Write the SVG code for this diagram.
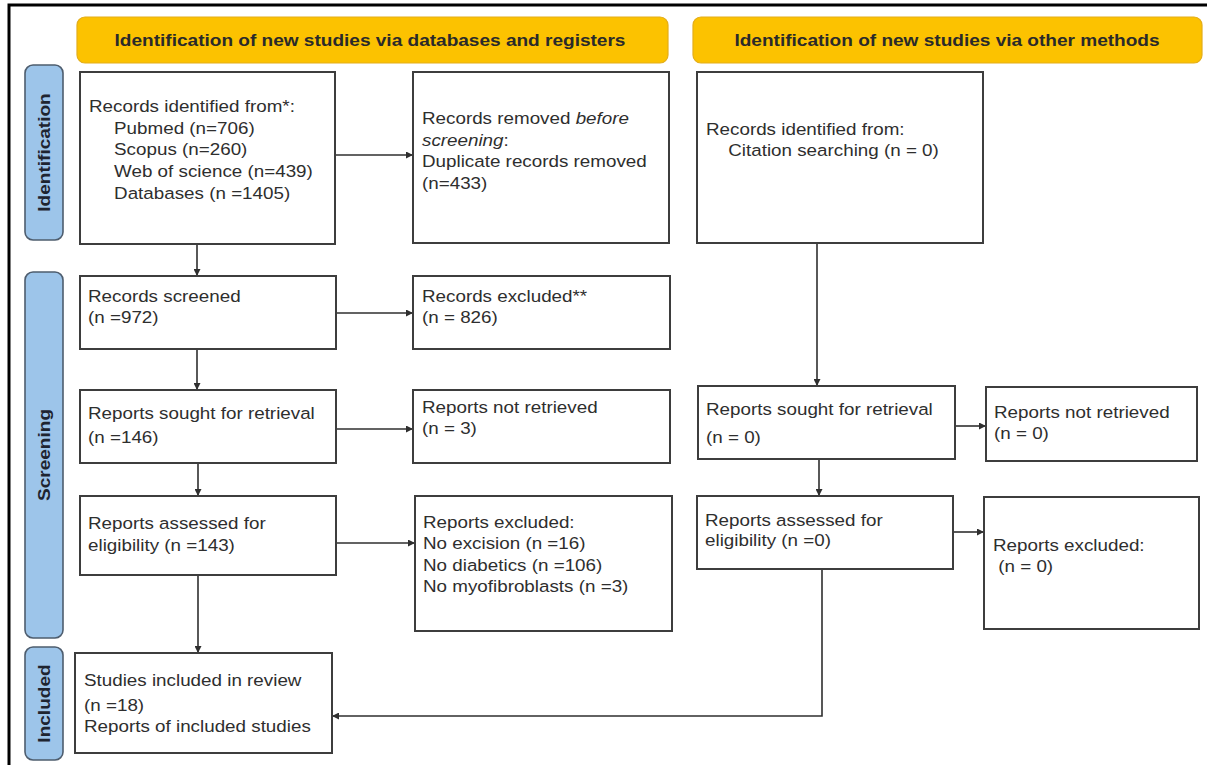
<svg xmlns="http://www.w3.org/2000/svg" width="1207" height="765" viewBox="0 0 1207 765">
<defs>
<style>
.bg{fill:#ffffff}
.box{fill:#ffffff;stroke:#3d3d3d;stroke-width:2}
.hdr{fill:#FCC200;stroke:#E3AD1A;stroke-width:1.2}
.side{fill:#9DC5EA;stroke:#4e5d6e;stroke-width:1.6}
.t{font-family:"Liberation Sans",Arial,sans-serif;font-size:16.5px;fill:#2e2e2e}
.h{font-family:"Liberation Sans",Arial,sans-serif;font-size:16px;font-weight:bold;fill:#2a2a2a;text-anchor:middle}
.s{font-family:"Liberation Sans",Arial,sans-serif;font-size:16px;font-weight:bold;fill:#1e2430;text-anchor:middle}
.c{fill:none;stroke:#2f2f2f;stroke-width:1.6}
</style>
<marker id="arr" viewBox="0 0 7 7" refX="7" refY="3.5" markerWidth="7" markerHeight="7" markerUnits="userSpaceOnUse" orient="auto">
<path d="M0,0 L7,3.5 L0,7 z" fill="#2f2f2f"/>
</marker>
</defs>
<rect class="bg" x="0" y="0" width="1207" height="765"/>
<path d="M9,765 V5 H1207" fill="none" stroke="#000" stroke-width="3"/>

<g id="header-databases">
<rect class="hdr" x="77" y="17" width="591" height="46" rx="8"/>
<text class="h" transform="translate(370,46) scale(1.19,1)">Identification of new studies via databases and registers</text>
</g>
<g id="header-other">
<rect class="hdr" x="693" y="17" width="509" height="46" rx="8"/>
<text class="h" transform="translate(947,46) scale(1.19,1)">Identification of new studies via other methods</text>
</g>

<g id="phase-identification">
<rect class="side" x="25" y="65" width="38" height="175" rx="8"/>
<text class="s" transform="translate(49.5,152.5) rotate(-90) scale(1.19,1)">Identification</text>
</g>
<g id="phase-screening">
<rect class="side" x="25" y="272" width="38" height="366" rx="8"/>
<text class="s" transform="translate(49.5,455) rotate(-90) scale(1.19,1)">Screening</text>
</g>
<g id="phase-included">
<rect class="side" x="25" y="647" width="38" height="113" rx="8"/>
<text class="s" transform="translate(49.5,703.5) rotate(-90) scale(1.19,1)">Included</text>
</g>

<g id="connectors">
<path class="c" d="M335,155 H413" marker-end="url(#arr)"/>
<path class="c" d="M197,244 V276" marker-end="url(#arr)"/>
<path class="c" d="M336,313 H413" marker-end="url(#arr)"/>
<path class="c" d="M197,349 V390" marker-end="url(#arr)"/>
<path class="c" d="M336,429 H413" marker-end="url(#arr)"/>
<path class="c" d="M198,463 V496" marker-end="url(#arr)"/>
<path class="c" d="M336,543 H415" marker-end="url(#arr)"/>
<path class="c" d="M198,575 V653" marker-end="url(#arr)"/>
<path class="c" d="M817,243 V386" marker-end="url(#arr)"/>
<path class="c" d="M955,426 H986" marker-end="url(#arr)"/>
<path class="c" d="M819,459 V496" marker-end="url(#arr)"/>
<path class="c" d="M953,532 H984" marker-end="url(#arr)"/>
<path class="c" d="M822,569 V716 H332" marker-end="url(#arr)"/>
</g>

<g id="records-identified">
<rect class="box" x="80" y="72" width="255" height="172"/>
<text class="t" transform="translate(89,112) scale(1.14,1)"><tspan x="0" y="0">Records identified from*:</tspan><tspan x="22" y="21.7">Pubmed (n=706)</tspan><tspan x="22" y="43.4">Scopus (n=260)</tspan><tspan x="22" y="65.1">Web of science (n=439)</tspan><tspan x="22" y="86.8">Databases (n =1405)</tspan></text>
</g>
<g id="records-removed">
<rect class="box" x="413" y="72" width="256" height="171"/>
<text class="t" transform="translate(422,124) scale(1.14,1)"><tspan x="0" y="0">Records removed <tspan font-style="italic">before</tspan></tspan><tspan x="0" y="21.7" font-style="italic">screening</tspan><tspan>:</tspan><tspan x="0" y="43.4">Duplicate records removed</tspan><tspan x="0" y="65.1">(n=433)</tspan></text>
</g>
<g id="records-identified-other">
<rect class="box" x="697" y="72" width="286" height="171"/>
<text class="t" transform="translate(706,135) scale(1.14,1)"><tspan x="0" y="0">Records identified from:</tspan><tspan x="19.5" y="21.5">Citation searching (n = 0)</tspan></text>
</g>
<g id="records-screened">
<rect class="box" x="80" y="276" width="256" height="73"/>
<text class="t" transform="translate(88,301.5) scale(1.14,1)"><tspan x="0" y="0">Records screened</tspan><tspan x="0" y="21.5">(n =972)</tspan></text>
</g>
<g id="records-excluded">
<rect class="box" x="413" y="276" width="257" height="73"/>
<text class="t" transform="translate(422,301.5) scale(1.14,1)"><tspan x="0" y="0">Records excluded**</tspan><tspan x="0" y="21.5">(n = 826)</tspan></text>
</g>
<g id="reports-sought">
<rect class="box" x="80" y="390" width="256" height="73"/>
<text class="t" transform="translate(88,418.5) scale(1.14,1)"><tspan x="0" y="0">Reports sought for retrieval</tspan><tspan x="0" y="24.5">(n =146)</tspan></text>
</g>
<g id="reports-not-retrieved">
<rect class="box" x="413" y="390" width="257" height="73"/>
<text class="t" transform="translate(422,413) scale(1.14,1)"><tspan x="0" y="0">Reports not retrieved</tspan><tspan x="0" y="21.5">(n = 3)</tspan></text>
</g>
<g id="reports-sought-other">
<rect class="box" x="698" y="386" width="257" height="73"/>
<text class="t" transform="translate(706,415) scale(1.14,1)"><tspan x="0" y="0">Reports sought for retrieval</tspan><tspan x="0" y="28">(n = 0)</tspan></text>
</g>
<g id="reports-not-retrieved-other">
<rect class="box" x="986" y="387" width="211" height="74"/>
<text class="t" transform="translate(994,418) scale(1.14,1)"><tspan x="0" y="0">Reports not retrieved</tspan><tspan x="0" y="21.5">(n = 0)</tspan></text>
</g>
<g id="reports-assessed">
<rect class="box" x="80" y="496" width="256" height="79"/>
<text class="t" transform="translate(88,529) scale(1.14,1)"><tspan x="0" y="0">Reports assessed for</tspan><tspan x="0" y="22">eligibility (n =143)</tspan></text>
</g>
<g id="reports-excluded">
<rect class="box" x="415" y="496" width="257" height="135"/>
<text class="t" transform="translate(423,528) scale(1.14,1)"><tspan x="0" y="0">Reports excluded:</tspan><tspan x="0" y="21.3">No excision (n =16)</tspan><tspan x="0" y="42.6">No diabetics (n =106)</tspan><tspan x="0" y="63.9">No myofibroblasts (n =3)</tspan></text>
</g>
<g id="reports-assessed-other">
<rect class="box" x="697" y="496" width="256" height="73"/>
<text class="t" transform="translate(705,526) scale(1.14,1)"><tspan x="0" y="0">Reports assessed for</tspan><tspan x="0" y="20.5">eligibility (n =0)</tspan></text>
</g>
<g id="reports-excluded-other">
<rect class="box" x="984" y="497" width="215" height="132"/>
<text class="t" transform="translate(993,551) scale(1.14,1)"><tspan x="0" y="0">Reports excluded:</tspan><tspan x="0" y="21.5"> (n = 0)</tspan></text>
</g>
<g id="studies-included">
<rect class="box" x="75" y="653" width="257" height="100"/>
<text class="t" transform="translate(84,686) scale(1.14,1)"><tspan x="0" y="0">Studies included in review</tspan><tspan x="0" y="25.5">(n =18)</tspan><tspan x="0" y="46">Reports of included studies</tspan></text>
</g>
</svg>
